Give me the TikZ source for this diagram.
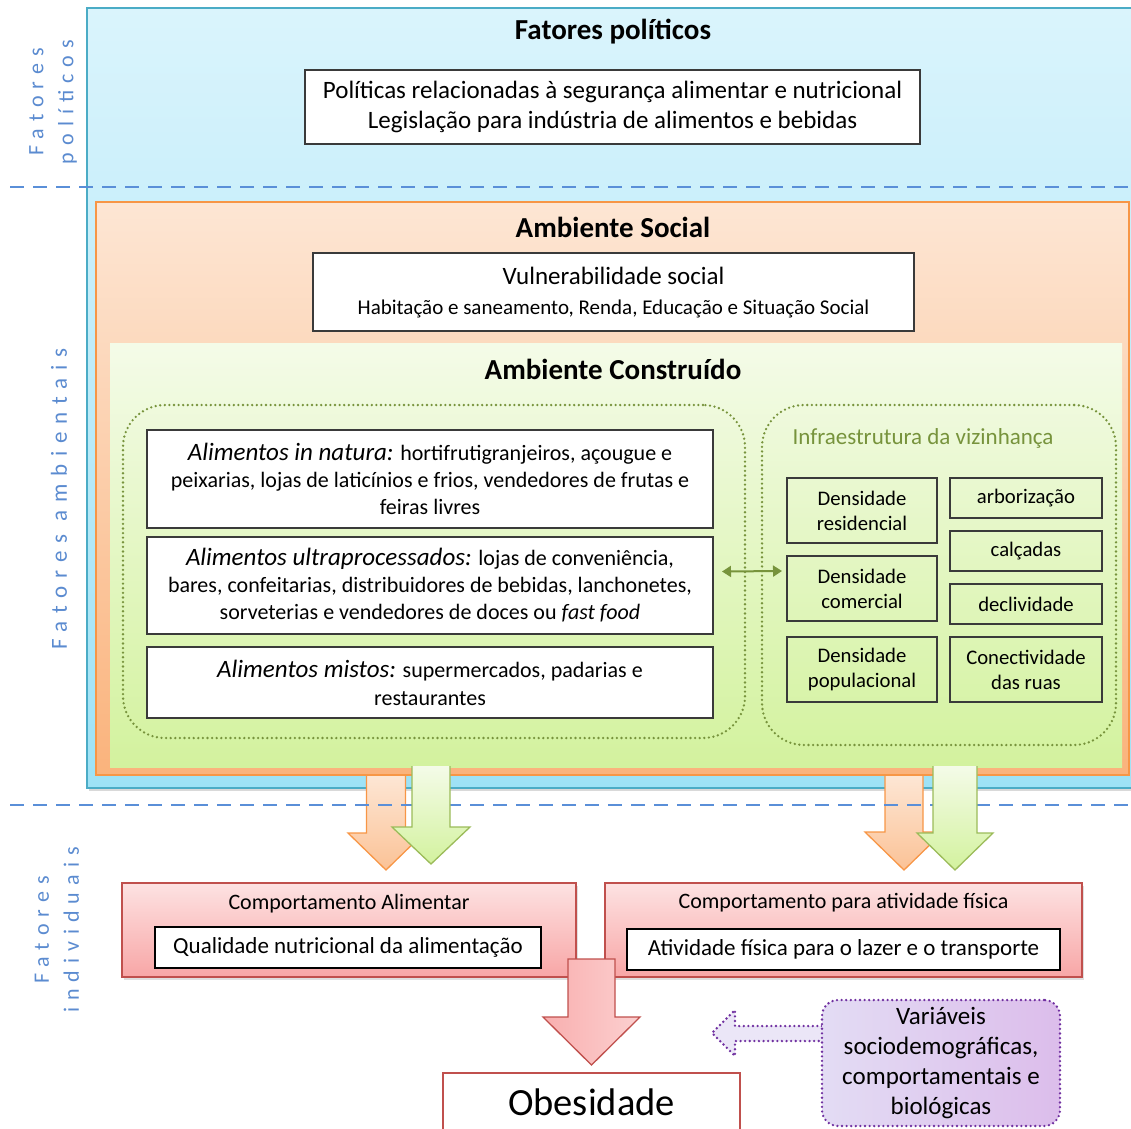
\documentclass[tikz,border=0pt]{standalone}
\usepackage{fontspec}
\setmainfont{Carlito}
\usetikzlibrary{calc,arrows.meta,shadows}

\definecolor{polfill}{HTML}{DAF4FC}
\definecolor{polfillb}{HTML}{9EE2F6}
\definecolor{poledge}{HTML}{4BACC6}
\definecolor{socfill}{HTML}{FDE6D4}
\definecolor{socfillb}{HTML}{FAB37C}
\definecolor{socedge}{HTML}{F79646}
\definecolor{cfill}{HTML}{F4FBE8}
\definecolor{cfillb}{HTML}{D3F29E}
\definecolor{olive}{HTML}{77933C}
\definecolor{grnedge}{HTML}{9BBB59}
\definecolor{levelblue}{HTML}{5B8BD0}
\definecolor{dashblue}{HTML}{5A8FD8}
\definecolor{pinktop}{HTML}{FDE2E2}
\definecolor{pinkbot}{HTML}{F8A6A6}
\definecolor{pinkedge}{HTML}{C0504D}
\definecolor{purpedge}{HTML}{7030A0}
\definecolor{purpL}{HTML}{E3DCF4}
\definecolor{purpR}{HTML}{DCBDEB}
\definecolor{boxedge}{HTML}{3A3A3A}

% font size helper
\newcommand{\fs}[2]{\fontsize{#1}{#2}\selectfont}

% downward block arrow emerging from a panel (no top edge):
% {fill style}{edge style}{x centre}{y top}{half shaft}{y head}{half head}{y tip}
\newcommand{\blockdown}[8]{%
  \path[#1] ({#3-#5},#4) -- ({#3+#5},#4) -- ({#3+#5},#6) -- ({#3+#7},#6)
    -- (#3,#8) -- ({#3-#7},#6) -- ({#3-#5},#6) -- cycle;
  \draw[#2] ({#3+#5},#4) -- ({#3+#5},#6) -- ({#3+#7},#6)
    -- (#3,#8) -- ({#3-#7},#6) -- ({#3-#5},#6) -- ({#3-#5},#4);}

\begin{document}
\begin{tikzpicture}[x=1pt,y=-1pt,
  every node/.style={inner sep=0pt, outer sep=0pt},
  whitebox/.style={draw=boxedge, line width=1.3pt, fill=white, align=center},
  infobox/.style={draw=boxedge, line width=1.2pt, align=center,
    minimum width=150pt, font=\fs{20.7}{25}},
  title/.style={font=\bfseries\fs{29}{32}},
  dots/.style={line width=2.6pt, line cap=round, dash pattern=on 0pt off 4.6pt},
  grouping/.style={draw=olive, dots, rounded corners=42pt},
  levellabel/.style={text=levelblue, rotate=90, align=center,
    font=\addfontfeature{LetterSpace=32}\fs{22}{30}},
  levelline/.style={draw=dashblue, line width=1.6pt, dash pattern=on 14pt off 9pt},
  pinkbox/.style={draw=pinkedge, line width=1.3pt, top color=pinktop,
    bottom color=pinkbot, drop shadow={shadow xshift=2pt, shadow yshift=-3pt, opacity=0.25}},
  innerbox/.style={draw=black, line width=1.8pt, fill=white, align=center, font=\fs{23}{26}},
  orangefill/.style={top color=socfill, bottom color=socfillb!80},
  orangeedge/.style={draw=socedge, line width=1.3pt, line join=miter},
  greenfill/.style={top color=cfill, bottom color=cfillb},
  greenedge/.style={draw=grnedge, line width=1.3pt, line join=miter},
]
\useasboundingbox (0,0) rectangle (1131,1128);

% ---------- nested environment panels ----------
\node[draw=poledge, line width=2pt, top color=polfill, bottom color=polfillb,
  minimum width=1053pt, minimum height=780pt,
  drop shadow={shadow xshift=2pt, shadow yshift=-3pt, opacity=0.3}]
  (polpanel) at (613.5,398) {};
\node[draw=socedge, line width=2pt, top color=socfill, bottom color=socfillb,
  minimum width=1033pt, minimum height=573pt] (socpanel) at (612.5,488.5) {};
\node[top color=cfill, bottom color=cfillb,
  minimum width=1012pt, minimum height=424pt] (cpanel) at (616,555) {};

% ---------- level separators ----------
\coordinate (sepAl) at (10,187);  \coordinate (sepAr) at (1131,187);
\draw[levelline] (sepAl) -- (sepAr);

% ---------- political factors ----------
\node[title] (poltitle) at (613,32) {Fatores políticos};
\node[whitebox, minimum width=615pt, minimum height=74pt, font=\fs{25}{30}]
  (pol) at (612.5,107) {Políticas relacionadas à segurança alimentar e nutricional\\
  Legislação para indústria de alimentos e bebidas};

% ---------- social environment ----------
\node[title] (soctitle) at (613,227) {Ambiente Social};
\node[whitebox, minimum width=601pt, minimum height=78pt] (vul) at (613.5,292) {};
\node[font=\fs{25}{28}] (vul1) at (613.5,276) {Vulnerabilidade social};
\node[font=\fs{21}{24}] (vul2) at (613.5,309) {Habitação e saneamento, Renda, Educação e Situação Social};

% ---------- built environment ----------
\node[title] (ctitle) at (613,369) {Ambiente Construído};

\node[grouping, minimum width=622pt, minimum height=333pt] (foodgrp) at (434,571.5) {};
\node[grouping, minimum width=354pt, minimum height=340pt] (infragrp) at (939,575) {};

\node[whitebox, minimum width=566pt, minimum height=98pt, font=\fs{22}{27}]
  (innat) at (430,479) {{\itshape\fs{25}{27}Alimentos in natura:} hortifrutigranjeiros, açougue e\\
  peixarias, lojas de laticínios e frios, vendedores de frutas e\\ feiras livres};
\node[whitebox, minimum width=566pt, minimum height=97pt, font=\fs{22}{27}]
  (ultra) at (430,585.5) {{\itshape\fs{25}{27}Alimentos ultraprocessados:} lojas de conveniência,\\
  bares, confeitarias, distribuidores de bebidas, lanchonetes,\\
  sorveterias e vendedores de doces ou \textit{fast food}};
\node[whitebox, minimum width=566pt, minimum height=71pt, font=\fs{22}{28}]
  (mistos) at (430,682.5) {{\itshape\fs{25}{28}Alimentos mistos:} supermercados, padarias e\\ restaurantes};

\node[text=olive, font=\fs{23}{26}] (infratitle) at (923,438) {Infraestrutura da vizinhança};

\node[infobox, minimum height=65pt] (dres) at (862,510.5) {Densidade\\residencial};
\node[infobox, minimum height=65pt] (dcom) at (862,588.5) {Densidade\\comercial};
\node[infobox, minimum height=65pt] (dpop) at (862,669.5) {Densidade\\populacional};
\node[infobox, minimum width=152pt, minimum height=40pt] (arb) at (1026,498) {arborização};
\node[infobox, minimum width=152pt, minimum height=40pt] (cal) at (1026,551) {calçadas};
\node[infobox, minimum width=152pt, minimum height=40pt] (dec) at (1026,604) {declividade};
\node[infobox, minimum width=152pt, minimum height=65pt] (con) at (1026,669.5) {Conectividade\\das ruas};

\draw[olive, line width=2pt, {Triangle[length=9pt,width=11pt]}-{Triangle[length=9pt,width=11pt]}]
  ($(foodgrp.east)+(-23,0)$) -- ($(infragrp.west)+(20,-4)$);

% ---------- side labels ----------
\node[levellabel] (lpol) at (53,102) {Fatores\\políticos};
\node[levellabel, font=\addfontfeature{LetterSpace=34}\fs{23}{30}] (lamb) at (59,499) {Fatores ambientais};
\node[levellabel] (lind) at (57,930) {Fatores\\individuais};

% ---------- environment -> behaviour arrows ----------
\blockdown{orangefill}{orangeedge}{386}{776}{19.5}{833}{38}{870}
\blockdown{orangefill}{orangeedge}{904}{776}{19}{832}{39}{870}
\coordinate (sepBl) at (10,805);  \coordinate (sepBr) at (1131,805);
\draw[levelline] (sepBl) -- (sepBr);
\blockdown{greenfill}{greenedge}{431}{766}{19}{827}{39}{864}
\blockdown{greenfill}{greenedge}{955}{766}{22}{833}{38}{870}

% ---------- individual behaviour ----------
\node[pinkbox, minimum width=454pt, minimum height=94pt] (ca) at (349,930) {};
\node[font=\fs{22}{24}] (catitle) at (349,904) {Comportamento Alimentar};
\node[innerbox, minimum width=386pt, minimum height=41pt] (caq) at (348,947.5)
  {Qualidade nutricional da alimentação};

\node[pinkbox, minimum width=477pt, minimum height=94pt] (caf) at (843.5,930) {};
\node[font=\fs{22}{24}] (caftitle) at (843.5,903) {Comportamento para atividade física};
\node[innerbox, minimum width=433pt, minimum height=41pt] (cafq) at (843.5,949.5)
  {Atividade física para o lazer e o transporte};

% ---------- outcome ----------
\path[left color=pinkbot!90, right color=pinktop!70!pinkbot]
  (568,959) -- (615,959) -- (615,1017) -- (640,1017) -- (591.5,1065)
  -- (543,1017) -- (568,1017) -- cycle;
\draw[draw=pinkedge, line width=1.3pt, line join=miter]
  (568,959) -- (615,959) -- (615,1017) -- (640,1017) -- (591.5,1065)
  -- (543,1017) -- (568,1017) -- cycle;
\node[draw=pinkedge, line width=2.5pt, fill=white, minimum width=297pt,
  minimum height=80pt, anchor=north] (obes) at (591.5,1073) {};
\node[font=\fs{38.5}{40}] (obestext) at (591.5,1102) {Obesidade};

% ---------- other variables ----------
\draw[purpedge, dots, fill=purpL!70]
  (822,1026) -- (735,1026) -- (735,1010) -- (712,1033) -- (735,1056)
  -- (735,1041) -- (822,1041);
\node[draw=purpedge, dots, rounded corners=16pt,
  left color=purpL, right color=purpR, minimum width=238pt, minimum height=126pt,
  align=center, font=\fs{25}{30}] (vars) at (941,1063)
  {Variáveis\\sociodemográficas,\\comportamentais e\\biológicas};
\end{tikzpicture}
\end{document}
